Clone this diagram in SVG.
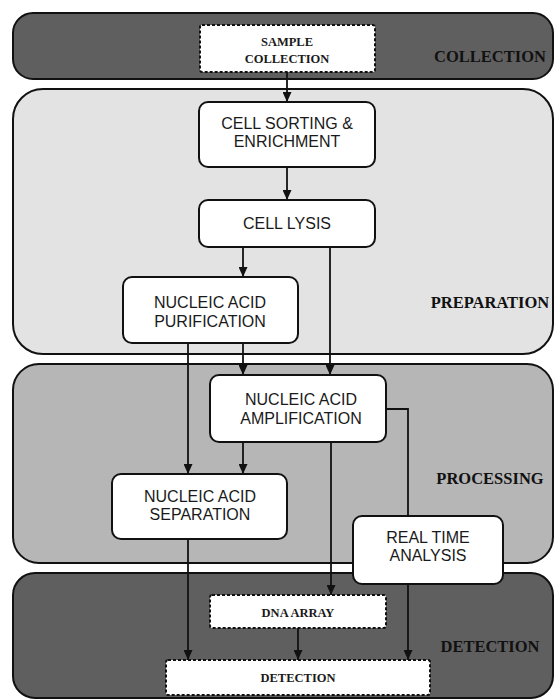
<svg xmlns="http://www.w3.org/2000/svg" width="555" height="700" viewBox="0 0 555 700">
<style>
.band{stroke:#111;stroke-width:2}
.dark{fill:#5f5f5f}
.light{fill:#e3e3e3}
.mid{fill:#b6b6b6}
.node{fill:#fff;stroke:#111;stroke-width:2}
.dash{fill:#fff;stroke:#111;stroke-width:2;stroke-dasharray:3 2}
.t{font-family:"Liberation Sans",Arial,sans-serif;font-size:16px;fill:#1a1a1a;text-anchor:middle}
.s{font-family:"Liberation Serif","Times New Roman",serif;font-weight:bold;font-size:12.5px;fill:#1a1a1a;text-anchor:middle}
.lab{font-family:"Liberation Serif","Times New Roman",serif;font-weight:bold;font-size:16.5px;fill:#111;text-anchor:middle}
.c{fill:none;stroke:#111;stroke-width:1.8}
</style>
<defs>
<marker id="ah" markerWidth="10" markerHeight="9" refX="10" refY="4.5" orient="auto" markerUnits="userSpaceOnUse" viewBox="0 0 10 9">
<path d="M0,0 L10,4.5 L0,9 Z" fill="#111"/>
</marker>
</defs>
<rect width="555" height="700" fill="#fff"/>
<g id="bands">
<rect class="band dark" x="13" y="13" width="540" height="66" rx="20"/>
<rect class="band light" x="13" y="89" width="540" height="265" rx="30"/>
<rect class="band mid" x="13" y="364" width="540" height="199" rx="26"/>
<rect class="band dark" x="13" y="573" width="540" height="125" rx="22"/>
<text class="lab" x="490" y="62">COLLECTION</text>
<text class="lab" x="490" y="308">PREPARATION</text>
<text class="lab" x="490" y="484">PROCESSING</text>
<text class="lab" x="490" y="652">DETECTION</text>
</g>
<g id="connectors">
<path class="c" d="M287,72 V102" marker-end="url(#ah)"/>
<path class="c" d="M287,167 V200" marker-end="url(#ah)"/>
<path class="c" d="M243,247 V277" marker-end="url(#ah)"/>
<path class="c" d="M330,247 V375" marker-end="url(#ah)"/>
<path class="c" d="M243,343 V375" marker-end="url(#ah)"/>
<path class="c" d="M188,343 V474" marker-end="url(#ah)"/>
<path class="c" d="M243,442 V474" marker-end="url(#ah)"/>
<path class="c" d="M386,409 H408 V516"/>
<path class="c" d="M331,442 V595" marker-end="url(#ah)"/>
<path class="c" d="M188,539 V660" marker-end="url(#ah)"/>
<path class="c" d="M298,628 V660" marker-end="url(#ah)"/>
<path class="c" d="M408,584 V660" marker-end="url(#ah)"/>
</g>
<g id="sample">
<rect class="dash" x="200" y="25" width="175" height="47" rx="2"/>
<text class="s" x="287" y="46">SAMPLE</text>
<text class="s" x="287" y="63">COLLECTION</text>
</g>
<g id="sorting">
<rect class="node" x="199" y="102" width="176" height="65" rx="9"/>
<text class="t" x="287" y="129">CELL SORTING &amp;</text>
<text class="t" x="287" y="147">ENRICHMENT</text>
</g>
<g id="lysis">
<rect class="node" x="199" y="200" width="176" height="47" rx="9"/>
<text class="t" x="287" y="229">CELL LYSIS</text>
</g>
<g id="purification">
<rect class="node" x="123" y="277" width="175" height="66" rx="9"/>
<text class="t" x="210" y="308">NUCLEIC ACID</text>
<text class="t" x="210" y="327">PURIFICATION</text>
</g>
<g id="amplification">
<rect class="node" x="210" y="375" width="176" height="67" rx="9"/>
<text class="t" x="301" y="405">NUCLEIC ACID</text>
<text class="t" x="301" y="424">AMPLIFICATION</text>
</g>
<g id="separation">
<rect class="node" x="112" y="474" width="175" height="65" rx="9"/>
<text class="t" x="200" y="502">NUCLEIC ACID</text>
<text class="t" x="200" y="520">SEPARATION</text>
</g>
<g id="realtime">
<rect class="node" x="353" y="516" width="150" height="68" rx="9"/>
<text class="t" x="428" y="543">REAL TIME</text>
<text class="t" x="428" y="561">ANALYSIS</text>
</g>
<g id="dnaarray">
<rect class="dash" x="210" y="595" width="176" height="33" rx="2"/>
<text class="s" x="298" y="617">DNA ARRAY</text>
</g>
<g id="detection">
<rect class="dash" x="166" y="660" width="264" height="35" rx="2"/>
<text class="s" x="298" y="682">DETECTION</text>
</g>
</svg>
